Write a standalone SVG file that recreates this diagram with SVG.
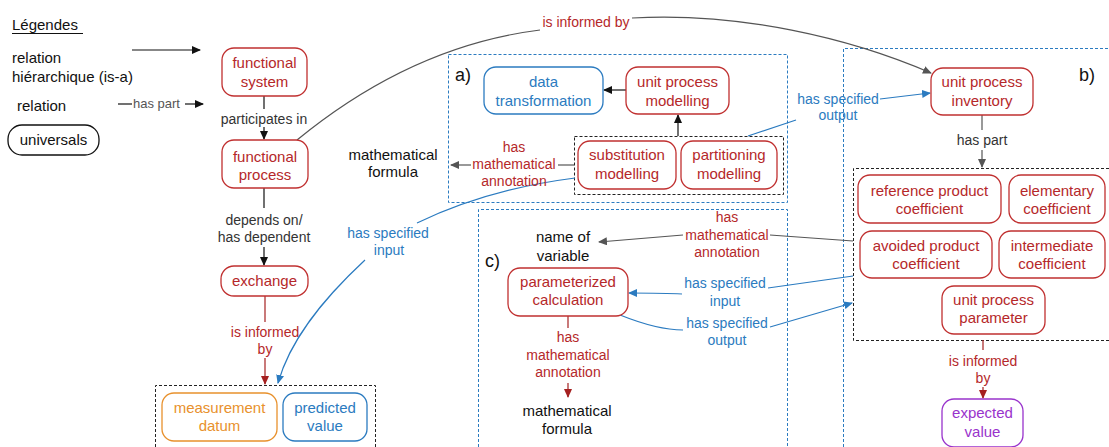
<svg xmlns="http://www.w3.org/2000/svg" width="1109" height="447" viewBox="0 0 1109 447">
<style>
text{font-family:"Liberation Sans",Arial,sans-serif;text-anchor:middle}
.n{font-size:15px}
.e{font-size:14px}
.k{fill:#111}
.r{fill:#b5282a}
.b{fill:#2b7bc0}
.o{fill:#e8912d}
.p{fill:#9933cc}
.g{fill:#333}
.nr{fill:#fff;stroke:#c03030;stroke-width:1.3}
.nb{fill:#fff;stroke:#2b7bc0;stroke-width:1.3}
.no{fill:#fff;stroke:#e8912d;stroke-width:1.3}
.np{fill:#fff;stroke:#9933cc;stroke-width:1.3}
.nk{fill:#fff;stroke:#111;stroke-width:1.3}
.cb{fill:none;stroke:#2b7bc0;stroke-width:1;stroke-dasharray:3,2}
.ck{fill:none;stroke:#222;stroke-width:1;stroke-dasharray:3,2}
.lk{fill:none;stroke:#111;stroke-width:1.2}
.lg{fill:none;stroke:#555;stroke-width:1.2}
.lr{fill:none;stroke:#a52020;stroke-width:1.2}
.lb{fill:none;stroke:#2b7bc0;stroke-width:1.2}
</style>
<defs>
<marker id="ak" markerWidth="9" markerHeight="8" refX="8" refY="4" orient="auto" markerUnits="userSpaceOnUse"><path d="M0,0 L9,4 L0,8 z" fill="#111"/></marker>
<marker id="ag" markerWidth="9" markerHeight="8" refX="8" refY="4" orient="auto" markerUnits="userSpaceOnUse"><path d="M0,0 L9,4 L0,8 z" fill="#555"/></marker>
<marker id="ar" markerWidth="9" markerHeight="8" refX="8" refY="4" orient="auto" markerUnits="userSpaceOnUse"><path d="M0,0 L9,4 L0,8 z" fill="#a52020"/></marker>
<marker id="ab" markerWidth="9" markerHeight="8" refX="8" refY="4" orient="auto" markerUnits="userSpaceOnUse"><path d="M0,0 L9,4 L0,8 z" fill="#2b7bc0"/></marker>
</defs>
<rect width="1109" height="447" fill="#fff"/>

<g id="legend">
<text x="12" y="30" class="k" style="font-size:15px;text-anchor:start">Légendes</text>
<line x1="12" y1="33.5" x2="83" y2="33.5" stroke="#111" stroke-width="1"/>
<text x="12" y="63" class="k n" style="text-anchor:start">relation</text>
<text x="12" y="82" class="k n" style="text-anchor:start">hiérarchique (is-a)</text>
<line x1="132" y1="50" x2="200" y2="50" class="lk" marker-end="url(#ak)"/>
<text x="17" y="111" class="k n" style="text-anchor:start">relation</text>
<line x1="118" y1="104" x2="132" y2="104" class="lk"/>
<text x="133" y="108" style="font-size:13px;text-anchor:start;fill:#555">has part</text>
<line x1="185" y1="104" x2="203" y2="104" class="lk" marker-end="url(#ak)"/>
<rect x="8" y="125" width="91" height="30" rx="14" class="nk"/>
<text x="53.5" y="145" class="k n">universals</text>
</g>

<g id="containers">
<rect x="448.5" y="54.5" width="339" height="148" class="cb"/>
<path d="M843.5,447 L843.5,48.5 L1109,48.5" class="cb"/>
<path d="M478.5,447 L478.5,209.5 L787.5,209.5 L787.5,447" class="cb"/>
<rect x="574.5" y="136.5" width="209" height="58" class="ck"/>
<path d="M1109,168.5 L853.5,168.5 L853.5,340.5 L1109,340.5" class="ck"/>
<path d="M155.5,447 L155.5,385.5 L375.5,385.5 L375.5,447" class="ck"/>
<text x="455" y="81" class="k" style="font-size:18px;text-anchor:start">a)</text>
<text x="1079" y="81" class="k" style="font-size:18px;text-anchor:start">b)</text>
<text x="485" y="267" class="k" style="font-size:18px;text-anchor:start">c)</text>
</g>

<g id="connectors">
<line x1="264" y1="96" x2="264" y2="109" class="lk"/>
<text x="264" y="124" class="e g">participates in</text>
<line x1="264" y1="127" x2="264" y2="139" class="lk" marker-end="url(#ak)"/>
<line x1="264" y1="188" x2="264" y2="208" class="lk"/>
<text x="264" y="225" class="e g">depends on/</text>
<text x="264" y="242" class="e g">has dependent</text>
<line x1="264" y1="247" x2="264" y2="265" class="lk" marker-end="url(#ak)"/>
<line x1="265" y1="296" x2="265" y2="322" class="lr"/>
<text x="265" y="337" class="e r">is informed</text>
<text x="265" y="354" class="e r">by</text>
<line x1="265" y1="358" x2="265" y2="384" class="lr" marker-end="url(#ar)"/>
<path d="M575,178 C520,185 465,200 417,223" class="lb"/>
<text x="388" y="238" class="e b">has specified</text>
<text x="389" y="255" class="e b">input</text>
<path d="M365,260 C322,300 290,340 278,383" class="lb" marker-end="url(#ab)"/>
<line x1="574" y1="165" x2="558" y2="165" class="lg"/>
<line x1="471" y1="165" x2="451" y2="165" class="lg" marker-end="url(#ag)"/>
<text x="514" y="152" class="e r">has</text>
<text x="514" y="169" class="e r">mathematical</text>
<text x="514" y="186" class="e r">annotation</text>
<text x="393" y="160" class="n k">mathematical</text>
<text x="393" y="177" class="n k">formula</text>
<line x1="626" y1="90" x2="604" y2="90" class="lk" marker-end="url(#ak)"/>
<line x1="678" y1="136" x2="678" y2="115" class="lk" marker-end="url(#ak)"/>
<line x1="748" y1="136" x2="796" y2="120" class="lb"/>
<text x="838" y="104" class="e b">has specified</text>
<text x="838" y="120" class="e b">output</text>
<line x1="880" y1="99" x2="930" y2="93" class="lb" marker-end="url(#ab)"/>
<path d="M297,140 C380,72 460,40 540,30" class="lg"/>
<text x="586" y="27" class="e r">is informed by</text>
<path d="M632,18 C740,12 850,38 931,73" class="lg" marker-end="url(#ag)"/>
<line x1="982" y1="115" x2="982" y2="130" class="lg"/>
<text x="982" y="145" class="e g">has part</text>
<line x1="982" y1="150" x2="982" y2="167" class="lg" marker-end="url(#ag)"/>
<line x1="853" y1="241" x2="770" y2="235" class="lg"/>
<text x="727" y="222" class="e r">has</text>
<text x="727" y="240" class="e r">mathematical</text>
<text x="727" y="257" class="e r">annotation</text>
<line x1="683" y1="235" x2="599" y2="242" class="lg" marker-end="url(#ag)"/>
<text x="563" y="242" class="n k">name of</text>
<text x="563" y="261" class="n k">variable</text>
<line x1="853" y1="276" x2="768" y2="288" class="lb"/>
<text x="725" y="288" class="e b">has specified</text>
<text x="725" y="306" class="e b">input</text>
<path d="M682,294 C665,293 650,293 629,293" class="lb" marker-end="url(#ab)"/>
<path d="M620,315 C645,325 665,330 683,330" class="lb"/>
<text x="727" y="328" class="e b">has specified</text>
<text x="727" y="345" class="e b">output</text>
<line x1="770" y1="327" x2="852" y2="303" class="lb" marker-end="url(#ab)"/>
<line x1="568" y1="316" x2="568" y2="328" class="lr"/>
<text x="568" y="342" class="e r">has</text>
<text x="568" y="360" class="e r">mathematical</text>
<text x="568" y="377" class="e r">annotation</text>
<line x1="568" y1="383" x2="568" y2="397" class="lr" marker-end="url(#ar)"/>
<text x="567" y="416" class="n k">mathematical</text>
<text x="567" y="434" class="n k">formula</text>
<line x1="983" y1="340" x2="983" y2="350" class="lr"/>
<text x="983" y="366" class="e r">is informed</text>
<text x="983" y="383" class="e r">by</text>
<line x1="983" y1="387" x2="983" y2="398" class="lr" marker-end="url(#ar)"/>
</g>

<g id="functional-system"><rect x="222" y="48" width="85" height="48" rx="12" class="nr"/><text x="264.5" y="68" class="n r">functional</text><text x="264.5" y="87" class="n r">system</text></g>
<g id="functional-process"><rect x="222" y="140" width="86" height="48" rx="12" class="nr"/><text x="265" y="162" class="n r">functional</text><text x="265" y="180" class="n r">process</text></g>
<g id="exchange"><rect x="221" y="266" width="87" height="30" rx="13" class="nr"/><text x="264.5" y="286" class="n r">exchange</text></g>
<g id="measurement-datum"><rect x="162" y="393" width="115" height="48" rx="12" class="no"/><text x="219.5" y="413" class="n o">measurement</text><text x="219.5" y="431" class="n o">datum</text></g>
<g id="predicted-value"><rect x="283" y="393" width="84" height="48" rx="12" class="nb"/><text x="325" y="413" class="n b">predicted</text><text x="325" y="431" class="n b">value</text></g>
<g id="data-transformation"><rect x="484" y="67" width="119" height="47" rx="12" class="nb"/><text x="543.5" y="87" class="n b">data</text><text x="543.5" y="106" class="n b">transformation</text></g>
<g id="unit-process-modelling"><rect x="626" y="67" width="103" height="47" rx="12" class="nr"/><text x="677.5" y="87" class="n r">unit process</text><text x="677.5" y="106" class="n r">modelling</text></g>
<g id="substitution-modelling"><rect x="578" y="141" width="98" height="48" rx="12" class="nr"/><text x="627" y="160" class="n r">substitution</text><text x="627" y="179" class="n r">modelling</text></g>
<g id="partitioning-modelling"><rect x="681" y="141" width="96" height="48" rx="12" class="nr"/><text x="729" y="160" class="n r">partitioning</text><text x="729" y="179" class="n r">modelling</text></g>
<g id="unit-process-inventory"><rect x="931" y="68" width="102" height="47" rx="12" class="nr"/><text x="982" y="87" class="n r">unit process</text><text x="982" y="106" class="n r">inventory</text></g>
<g id="reference-product-coefficient"><rect x="858" y="175" width="143" height="48" rx="12" class="nr"/><text x="929.5" y="196" class="n r">reference product</text><text x="929.5" y="214" class="n r">coefficient</text></g>
<g id="elementary-coefficient"><rect x="1009" y="175" width="96" height="48" rx="12" class="nr"/><text x="1057" y="196" class="n r">elementary</text><text x="1057" y="214" class="n r">coefficient</text></g>
<g id="avoided-product-coefficient"><rect x="860" y="231" width="132" height="47" rx="12" class="nr"/><text x="926" y="251" class="n r">avoided product</text><text x="926" y="269" class="n r">coefficient</text></g>
<g id="intermediate-coefficient"><rect x="999" y="231" width="106" height="47" rx="12" class="nr"/><text x="1052" y="251" class="n r">intermediate</text><text x="1052" y="269" class="n r">coefficient</text></g>
<g id="unit-process-parameter"><rect x="942" y="286" width="103" height="48" rx="12" class="nr"/><text x="993.5" y="305" class="n r">unit process</text><text x="993.5" y="323" class="n r">parameter</text></g>
<g id="expected-value"><rect x="942" y="399" width="81" height="48" rx="12" class="np"/><text x="982.5" y="418" class="n p">expected</text><text x="982.5" y="437" class="n p">value</text></g>
<g id="parameterized-calculation"><rect x="508" y="268" width="120" height="48" rx="12" class="nr"/><text x="568" y="287" class="n r">parameterized</text><text x="568" y="305" class="n r">calculation</text></g>
</svg>
